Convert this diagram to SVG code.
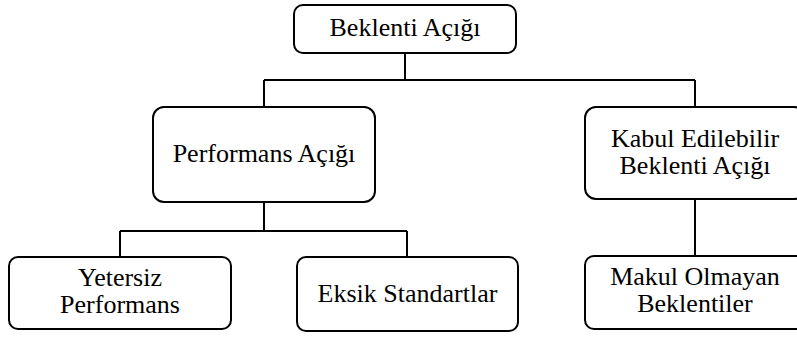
<svg xmlns="http://www.w3.org/2000/svg" width="797" height="338" viewBox="0 0 797 338">
<style>
.box{fill:#fff;stroke:#000;stroke-width:2}
.t{font-family:'Liberation Serif','Times New Roman',serif;font-size:26px;fill:#000;text-anchor:middle}
.c{fill:none;stroke:#000;stroke-width:2}
</style>
<rect width="797" height="338" fill="#fff"/>
<g id="connectors">
<path class="c" d="M405 53V80M264 80H695M264 80V107M695 80V107"/>
<path class="c" d="M264 202V231M120 231H407M120 231V257M407 231V257"/>
<path class="c" d="M695 199V256"/>
</g>
<g id="n1"><rect class="box" x="294" y="5" width="222" height="48" rx="9"/><text class="t" x="405" y="36">Beklenti Açığı</text></g>
<g id="n2"><rect class="box" x="153" y="107" width="222" height="95" rx="11"/><text class="t" x="264" y="162">Performans Açığı</text></g>
<g id="n3"><rect class="box" x="585" y="107" width="220" height="92" rx="11"/><text class="t" x="695" y="147">Kabul Edilebilir</text><text class="t" x="695" y="174">Beklenti Açığı</text></g>
<g id="n4"><rect class="box" x="9" y="257" width="222" height="72" rx="9"/><text class="t" x="120" y="286">Yetersiz</text><text class="t" x="120" y="313">Performans</text></g>
<g id="n5"><rect class="box" x="297" y="257" width="221" height="74" rx="9"/><text class="t" x="407.5" y="302">Eksik Standartlar</text></g>
<g id="n6"><rect class="box" x="585" y="256" width="220" height="73" rx="9"/><text class="t" x="695" y="285">Makul Olmayan</text><text class="t" x="695" y="312">Beklentiler</text></g>
</svg>
